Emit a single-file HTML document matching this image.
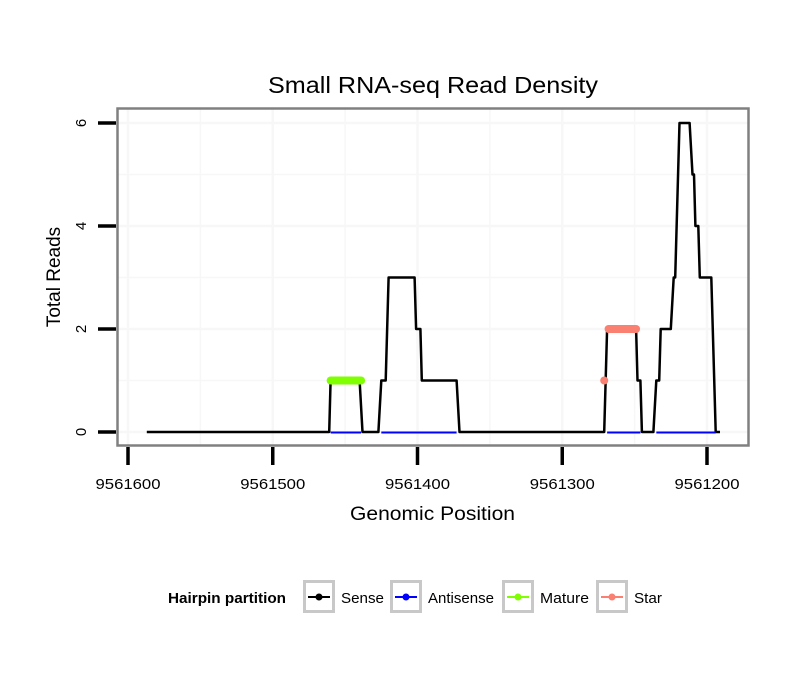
<!DOCTYPE html>
<html><head><meta charset="utf-8"><style>
body{margin:0;background:#fff;}
svg{display:block;font-family:"Liberation Sans",sans-serif;}
</style></head><body>
<svg id="chart" width="810" height="690" viewBox="0 0 810 690" xmlns="http://www.w3.org/2000/svg">
<rect x="0" y="0" width="810" height="690" fill="#fff"/>
<text x="268" y="93" font-size="23" textLength="330" lengthAdjust="spacingAndGlyphs" fill="#000">Small RNA-seq Read Density</text>
<g id="grid"></g>
<g id="series"></g>
<rect x="117.5" y="108.5" width="631" height="337" fill="none" stroke="#808080" stroke-width="2.5"/>
<g id="axes"></g>
<text x="350" y="520" font-size="19" textLength="165" lengthAdjust="spacingAndGlyphs">Genomic Position</text>
<text transform="translate(60,277) rotate(-90)" font-size="19" text-anchor="middle">Total Reads</text>
<g id="legend">
<text x="168" y="603" font-size="15" font-weight="bold" textLength="118" lengthAdjust="spacingAndGlyphs">Hairpin partition</text>
</g>
</svg>
<script>
const xTicks=[9561600,9561500,9561400,9561300,9561200];
const xMinor=[9561550,9561450,9561350,9561250];
const yTicks=[0,2,4,6];
const yMinor=[1,3,5];
const sensePos=[9561587,9561461,9561460,9561440,9561438,9561427,9561425,9561422,9561420,9561402,9561401,9561398,9561397,9561373,9561371,9561271,9561269,9561249,9561248,9561246,9561245,9561237,9561235,9561233,9561232,9561225,9561223,9561222,9561219,9561212,9561210,9561209,9561208,9561206,9561205,9561197,9561194,9561191];
const senseVal=[0,0,1,1,0,0,1,1,3,3,2,2,1,1,0,0,2,2,1,1,0,0,1,1,2,2,3,3,6,6,5,5,4,4,3,3,0,0];
const antisenseSegs=[[9561460,9561439],[9561425,9561373],[9561269,9561246],[9561235,9561194]];
const matureSeg=[9561460,9561439];
const matureVal=1;
const starSeg=[9561268,9561249];
const starVal=2;
const starPointPos=[9561271];
const starPointVal=[1];
const legendLabels=["Sense","Antisense","Mature","Star"];
const legendColors=["#000000","#0000ff","#7fff00","#fa8072"];

const NS="http://www.w3.org/2000/svg";
function X(p){return 128+(9561600-p)*1.4475;}
function Y(v){return 432-v*51.5;}
function mk(tag,attrs,parent){const e=document.createElementNS(NS,tag);for(const k in attrs)e.setAttribute(k,attrs[k]);parent.appendChild(e);return e;}
const grid=document.getElementById('grid'),series=document.getElementById('series'),axes=document.getElementById('axes'),legend=document.getElementById('legend');
mk('rect',{x:117,y:108,width:632,height:338,fill:'#fff'},grid);
xMinor.concat(xTicks).forEach(p=>{const l=mk('line',{x1:X(p),x2:X(p),y1:109,y2:445,stroke:'#f7f7f7','stroke-width':xTicks.includes(p)?2.5:1.5},grid);

});
yMinor.concat(yTicks).forEach(v=>{const l=mk('line',{x1:118,x2:748,y1:Y(v),y2:Y(v),stroke:'#f7f7f7','stroke-width':yTicks.includes(v)?2.5:1.5},grid);

});
let d=sensePos.map((p,i)=>(i?'L':'M')+X(p).toFixed(1)+','+Y(senseVal[i]).toFixed(1)).join(' ');
const sl=mk('path',{d:d,fill:'none',stroke:'#000','stroke-width':2.5,'stroke-linejoin':'round'},series);


antisenseSegs.forEach(s=>{const l=mk('line',{x1:X(s[0]),x2:X(s[1]),y1:Y(0)+0.5,y2:Y(0)+0.5,stroke:'#0000ff','stroke-width':2},series);

});
const ml=mk('line',{x1:X(matureSeg[0]),x2:X(matureSeg[1]),y1:Y(matureVal),y2:Y(matureVal),stroke:'#7fff00','stroke-width':8,'stroke-linecap':'round'},series);


const stl=mk('line',{x1:X(starSeg[0]),x2:X(starSeg[1]),y1:Y(starVal),y2:Y(starVal),stroke:'#fa8072','stroke-width':8,'stroke-linecap':'round'},series);


starPointPos.forEach((p,i)=>{const c=mk('circle',{cx:X(p),cy:Y(starPointVal[i]),r:4,fill:'#fa8072'},series);

});
xTicks.forEach(p=>{const t=mk('line',{x1:X(p),x2:X(p),y1:447,y2:465,stroke:'#000','stroke-width':3.5},axes);


const tx=mk('text',{x:X(p)-32.5,y:489,'font-size':15,textLength:65,lengthAdjust:'spacingAndGlyphs'},axes);tx.textContent=p;

});
yTicks.forEach(v=>{const t=mk('line',{x1:98,x2:116,y1:Y(v),y2:Y(v),stroke:'#000','stroke-width':3.5},axes);


const tx=mk('text',{transform:'translate(86,'+Y(v)+') rotate(-90)','font-size':15,'text-anchor':'middle'},axes);tx.textContent=v;

});
const boxX=[303,390,502,596];
const textW=[43,66,49,28];
legendLabels.forEach((lab,i)=>{const g=mk('g',{},legend);


const bx=boxX[i];
mk('rect',{x:bx+1.5,y:581.5,width:29,height:30,fill:'#fff',stroke:'#c8c8c8','stroke-width':3},g);
mk('line',{x1:bx+5,x2:bx+27,y1:597,y2:597,stroke:legendColors[i],'stroke-width':2},g);
mk('circle',{cx:bx+16,cy:597,r:3.5,fill:legendColors[i]},g);
const t=mk('text',{x:bx+38,y:603,'font-size':15,textLength:textW[i],lengthAdjust:'spacingAndGlyphs'},g);t.textContent=lab;});
</script>
</body></html>
